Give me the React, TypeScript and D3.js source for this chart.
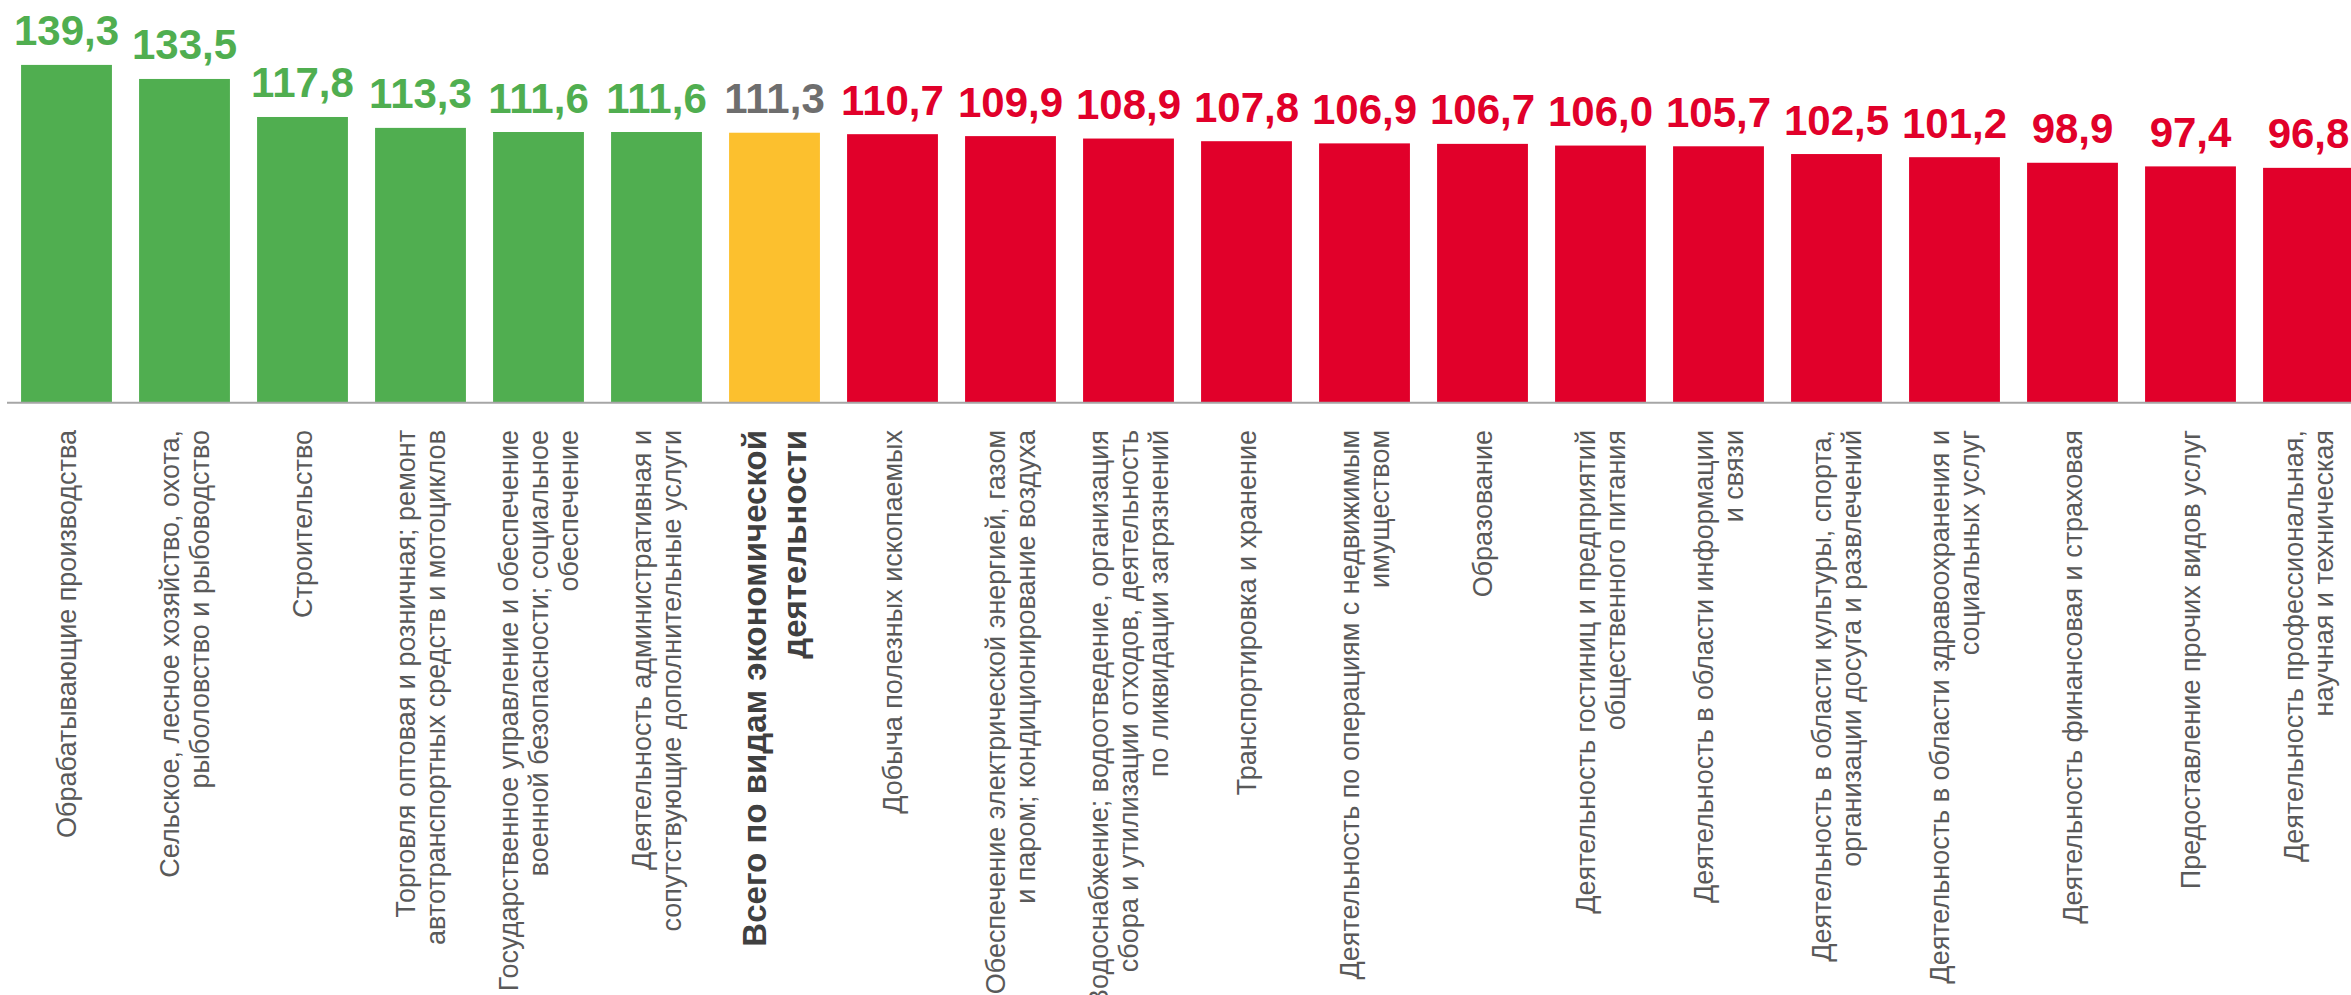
import React from "react";
import * as d3 from "d3";

const categories: string[] = [
  "Обрабатывающие производства",
  "Сельское, лесное хозяйство, охота,\nрыболовство и рыбоводство",
  "Строительство",
  "Торговля оптовая и розничная; ремонт\nавтотранспортных средств и мотоциклов",
  "Государственное управление и обеспечение\nвоенной безопасности; социальное\nобеспечение",
  "Деятельность административная и\nсопутствующие дополнительные услуги",
  "Всего по видам экономической\nдеятельности",
  "Добыча полезных ископаемых",
  "Обеспечение электрической энергией, газом\nи паром; кондиционирование воздуха",
  "Водоснабжение; водоотведение, организация\nсбора и утилизации отходов, деятельность\nпо ликвидации загрязнений",
  "Транспортировка и хранение",
  "Деятельность по операциям с недвижимым\nимуществом",
  "Образование",
  "Деятельность гостиниц и предприятий\nобщественного питания",
  "Деятельность в области информации\nи связи",
  "Деятельность в области культуры, спорта,\nорганизации досуга и развлечений",
  "Деятельность в области здравоохранения и\nсоциальных услуг",
  "Деятельность финансовая и страховая",
  "Предоставление прочих видов услуг",
  "Деятельность профессиональная,\nнаучная и техническая",
];

const values: number[] = [
  139.3, 133.5, 117.8, 113.3, 111.6, 111.6, 111.3, 110.7, 109.9, 108.9,
  107.8, 106.9, 106.7, 106.0, 105.7, 102.5, 101.2, 98.9, 97.4, 96.8,
];

// group of each bar: above average, total, below average
const groups: string[] = [
  "above", "above", "above", "above", "above", "above", "total",
  "below", "below", "below", "below", "below", "below", "below",
  "below", "below", "below", "below", "below", "below",
];

const W = 2351;
const H = 995;
const baseY = 402.3;

const barColor: Record<string, string> = {
  above: "#50AE50",
  total: "#FCC02E",
  below: "#E1002A",
};
const valueColor: Record<string, string> = {
  above: "#50AE50",
  total: "#6E6E6E",
  below: "#E1002A",
};

const fmt = (v: number) => v.toFixed(1).replace(".", ",");

export default function App() {
  const x = d3
    .scaleBand<number>()
    .domain(d3.range(values.length))
    .range([7.5, 7.5 + 118 * values.length])
    .paddingInner(0.23)
    .paddingOuter(0.115);
  const y = d3.scaleLinear().domain([0, 166.1]).range([baseY, 0]);
  const font = "'Liberation Sans', Arial, sans-serif";

  return (
    <svg
      width={W}
      height={H}
      style={{ position: "absolute", left: 0, top: 0, background: "#fff" }}
    >
      {values.map((v, i) => {
        const g = groups[i];
        const x0 = x(i) as number;
        return (
          <g key={i}>
            <rect
              x={x0}
              y={y(v)}
              width={x.bandwidth()}
              height={baseY - y(v)}
              fill={barColor[g]}
            />
            <text
              x={x0 + x.bandwidth() / 2}
              y={y(v) - 19.5}
              textAnchor="middle"
              fontFamily={font}
              fontWeight="bold"
              fontSize={42}
              fill={valueColor[g]}
            >
              {fmt(v)}
            </text>
          </g>
        );
      })}
      <line x1={7} x2={W} y1={baseY + 0.5} y2={baseY + 0.5} stroke="#A6A6A6" strokeWidth={2} />
      {categories.map((c, i) => {
        const lines = c.split("\n");
        const isTotal = groups[i] === "total";
        const fs = isTotal ? 33 : 27;
        const lh = isTotal ? 40 : 30;
        const cx = (x(i) as number) + x.bandwidth() / 2;
        const top = 430;
        return (
          <text
            key={i}
            transform={`translate(${cx},${top}) rotate(-90)`}
            textAnchor="end"
            fontFamily={font}
            fontWeight={isTotal ? "bold" : "normal"}
            fontSize={fs}
            fill={isTotal ? "#404040" : "#595959"}
          >
            {lines.map((ln, j) => (
              <tspan key={j} x={0} y={(j - (lines.length - 1) / 2) * lh + fs * 0.36}>
                {ln}
              </tspan>
            ))}
          </text>
        );
      })}
    </svg>
  );
}
